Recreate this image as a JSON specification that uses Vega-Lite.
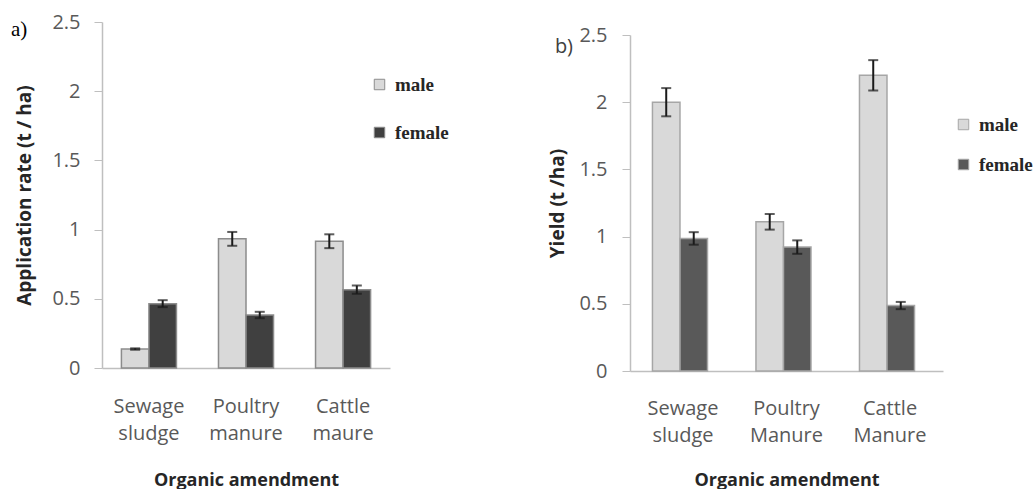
{
  "$schema": "https://vega.github.io/schema/vega-lite/v6.json",
  "padding": {"left": 10, "top": 12, "right": 0, "bottom": 0},
  "background": "white",
  "config": {
    "view": {"stroke": null},
    "axis": {
      "grid": false,
      "domainColor": "#bfbfbf",
      "domainWidth": 1.5,
      "tickColor": "#bfbfbf",
      "labelFont": "Open Sans",
      "labelFontSize": 20,
      "labelColor": "#595959",
      "titleFont": "Open Sans",
      "titleFontSize": 19,
      "titleFontWeight": "bold",
      "titleColor": "#262626"
    },
    "legend": {
      "labelFont": "Liberation Serif",
      "labelFontSize": 19,
      "labelFontWeight": "bold",
      "labelColor": "#262626",
      "symbolType": "square",
      "symbolSize": 110,
      "symbolStrokeWidth": 1
    }
  },
  "resolve": {"scale": {"color": "independent"}, "legend": {"color": "independent"}},
  "spacing": 99,
  "hconcat": [
    {
      "title": {"text": "a)", "anchor": "start", "frame": "bounds", "orient": "top", "font": "Liberation Serif", "fontSize": 21, "fontWeight": "normal", "color": "black", "offset": -28, "dx": -5},
      "width": 288,
      "height": 346,
      "data": {"values": [
        {"cat": "Sewage sludge", "sex": "male", "value": 0.137, "lo": 0.132, "hi": 0.142},
        {"cat": "Sewage sludge", "sex": "female", "value": 0.465, "lo": 0.44, "hi": 0.49},
        {"cat": "Poultry manure", "sex": "male", "value": 0.933, "lo": 0.883, "hi": 0.983},
        {"cat": "Poultry manure", "sex": "female", "value": 0.383, "lo": 0.36, "hi": 0.406},
        {"cat": "Cattle maure", "sex": "male", "value": 0.916, "lo": 0.866, "hi": 0.966},
        {"cat": "Cattle maure", "sex": "female", "value": 0.566, "lo": 0.536, "hi": 0.596}
      ]},
      "encoding": {
        "x": {"field": "cat", "type": "nominal", "sort": null,
              "scale": {"paddingInner": 0.433, "paddingOuter": 0.2},
              "axis": {"title": "Organic amendment", "titleFontSize": 18, "labelAngle": 0, "ticks": false, "labelExpr": "split(datum.value, ' ')", "labelLineHeight": 27, "labelPadding": 28, "titlePadding": 28}},
        "xOffset": {"field": "sex", "type": "nominal", "sort": ["male", "female"], "scale": {"paddingInner": 0, "paddingOuter": 0}}
      },
      "layer": [
        {
          "mark": {"type": "bar", "stroke": "#8c8c8c", "strokeWidth": 1.5},
          "encoding": {
            "y": {"field": "value", "type": "quantitative", "scale": {"domain": [0, 2.5], "nice": false},
                  "axis": {"title": "Application rate (t / ha)", "values": [0, 0.5, 1, 1.5, 2, 2.5], "format": "~g", "tickSize": 8, "labelPadding": 14, "titlePadding": 17}},
            "color": {"field": "sex", "type": "nominal", "sort": ["male", "female"],
                      "scale": {"domain": ["male", "female"], "range": ["#d9d9d9", "#404040"]},
                      "legend": {"title": null, "orient": "none", "legendX": 268, "legendY": 53, "rowPadding": 28, "labelOffset": 6, "symbolStrokeColor": "#8c8c8c"}}
          }
        },
        {
          "mark": {"type": "rule", "color": "#1a1a1a", "strokeWidth": 2},
          "encoding": {"y": {"field": "lo", "type": "quantitative"}, "y2": {"field": "hi"}}
        },
        {
          "mark": {"type": "tick", "color": "#1a1a1a", "thickness": 2, "size": 10, "orient": "horizontal"},
          "encoding": {"y": {"field": "lo", "type": "quantitative"}}
        },
        {
          "mark": {"type": "tick", "color": "#1a1a1a", "thickness": 2, "size": 10, "orient": "horizontal"},
          "encoding": {"y": {"field": "hi", "type": "quantitative"}}
        }
      ]
    },
    {
      "title": {"text": "b)", "anchor": "start", "frame": "bounds", "orient": "top", "font": "Open Sans", "fontSize": 20, "fontWeight": "normal", "color": "#404040", "offset": -35, "dx": 6},
      "width": 313,
      "height": 349,
      "data": {"values": [
        {"cat": "Sewage sludge", "sex": "male", "value": 2.0, "lo": 1.895, "hi": 2.105},
        {"cat": "Sewage sludge", "sex": "female", "value": 0.986, "lo": 0.94, "hi": 1.033},
        {"cat": "Poultry Manure", "sex": "male", "value": 1.11, "lo": 1.052, "hi": 1.168},
        {"cat": "Poultry Manure", "sex": "female", "value": 0.922, "lo": 0.872, "hi": 0.972},
        {"cat": "Cattle Manure", "sex": "male", "value": 2.2, "lo": 2.087, "hi": 2.313},
        {"cat": "Cattle Manure", "sex": "female", "value": 0.487, "lo": 0.46, "hi": 0.514}
      ]},
      "encoding": {
        "x": {"field": "cat", "type": "nominal", "sort": null,
              "scale": {"paddingInner": 0.41, "paddingOuter": 0.217},
              "axis": {"title": "Organic amendment", "titleFontSize": 18, "labelAngle": 0, "ticks": false, "labelExpr": "split(datum.value, ' ')", "labelLineHeight": 27, "labelPadding": 27, "titlePadding": 26}},
        "xOffset": {"field": "sex", "type": "nominal", "sort": ["male", "female"], "scale": {"paddingInner": 0, "paddingOuter": 0}}
      },
      "layer": [
        {
          "mark": {"type": "bar", "stroke": "#a6a6a6", "strokeWidth": 1.5},
          "encoding": {
            "y": {"field": "value", "type": "quantitative", "scale": {"domain": [0, 2.5], "nice": false, "range": [349, 13]},
                  "axis": {"title": "Yield (t /ha)", "values": [0, 0.5, 1, 1.5, 2, 2.5], "format": "~g", "tickSize": 8, "labelPadding": 15, "titlePadding": 11}},
            "color": {"field": "sex", "type": "nominal", "sort": ["male", "female"],
                      "scale": {"domain": ["male", "female"], "range": ["#d9d9d9", "#595959"]},
                      "legend": {"title": null, "orient": "none", "legendX": 324, "legendY": 93, "rowPadding": 20, "labelOffset": 6, "symbolStrokeColor": "#a6a6a6"}}
          }
        },
        {
          "mark": {"type": "rule", "color": "#1a1a1a", "strokeWidth": 2},
          "encoding": {"y": {"field": "lo", "type": "quantitative"}, "y2": {"field": "hi"}}
        },
        {
          "mark": {"type": "tick", "color": "#1a1a1a", "thickness": 2, "size": 10, "orient": "horizontal"},
          "encoding": {"y": {"field": "lo", "type": "quantitative"}}
        },
        {
          "mark": {"type": "tick", "color": "#1a1a1a", "thickness": 2, "size": 10, "orient": "horizontal"},
          "encoding": {"y": {"field": "hi", "type": "quantitative"}}
        }
      ]
    }
  ]
}
